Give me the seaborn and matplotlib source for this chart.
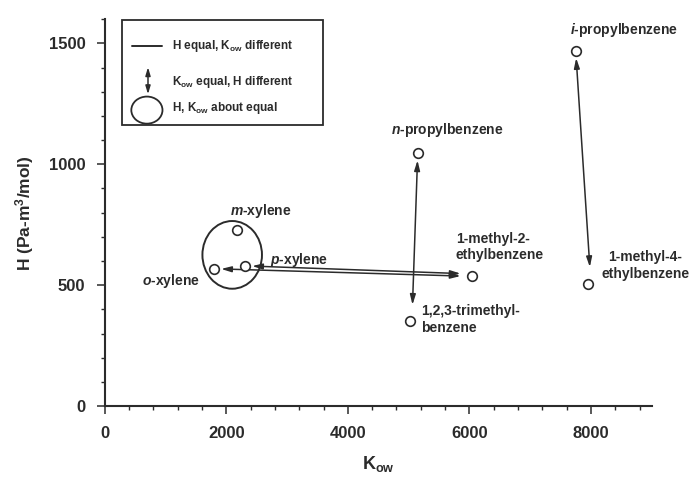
import matplotlib
matplotlib.use("Agg")
import matplotlib.pyplot as plt
import seaborn as sns
import pandas as pd
from matplotlib.patches import Ellipse, Rectangle
from matplotlib.ticker import MultipleLocator

# ---------------- data ----------------
compounds = ["m-xylene", "p-xylene", "o-xylene", "1-methyl-2-ethylbenzene",
             "1,2,3-trimethylbenzene", "n-propylbenzene", "i-propylbenzene",
             "1-methyl-4-ethylbenzene"]
kow = [2180, 2310, 1800, 6050, 5020, 5150, 7750, 7950]
henry = [728, 580, 568, 537, 350, 1045, 1468, 506]

# label text and placement (data coords)
label_text = [r"$\it{m}$-xylene", r"$\it{p}$-xylene", r"$\it{o}$-xylene",
              "1-methyl-2-\nethylbenzene", "1,2,3-trimethyl-\nbenzene",
              r"$\it{n}$-propylbenzene", r"$\it{i}$-propylbenzene",
              "1-methyl-4-\nethylbenzene"]
label_x = [2570, 2720, 1570, 5776, 5200, 5635, 8540, 8895]
label_y = [805, 605, 518, 658, 358, 1140, 1556, 580]
label_ha = ["center", "left", "right", "left", "left", "center", "center", "center"]

# relationships
h_equal_pairs = [("p-xylene", "1-methyl-2-ethylbenzene"),
                 ("o-xylene", "1-methyl-2-ethylbenzene")]
kow_equal_pairs = [("n-propylbenzene", "1,2,3-trimethylbenzene"),
                   ("i-propylbenzene", "1-methyl-4-ethylbenzene")]
about_equal_group = ["m-xylene", "p-xylene", "o-xylene"]

x_ticks = [0, 2000, 4000, 6000, 8000]
y_ticks = [0, 500, 1000, 1500]

df = pd.DataFrame({"compound": compounds, "Kow": kow, "H": henry})
pos = df.set_index("compound")

INK = "#2b2b2b"
sns.set_theme(style="white")
plt.rcParams["font.family"] = ["Liberation Sans", "DejaVu Sans"]
plt.rcParams["mathtext.fontset"] = "custom"
plt.rcParams["mathtext.rm"] = "Liberation Sans:bold"
plt.rcParams["mathtext.bf"] = "Liberation Sans:bold"
plt.rcParams["mathtext.it"] = "Liberation Sans:italic:bold"

fig = plt.figure(figsize=(6.94, 4.80), dpi=100)
ax = fig.add_axes([0.151, 0.154, 0.788, 0.806])

sns.scatterplot(data=df, x="Kow", y="H", ax=ax, marker="o", s=48,
                facecolor="white", edgecolor=INK, linewidth=1.2, zorder=4,
                legend=False)

ax.set_xlim(0, 9000)
ax.set_ylim(0, 1600)
ax.set_xticks(x_ticks)
ax.set_yticks(y_ticks)
ax.xaxis.set_minor_locator(MultipleLocator(400))
ax.yaxis.set_minor_locator(MultipleLocator(100))
ax.tick_params(which="major", direction="out", length=6, width=1.1, color=INK,
               labelsize=12, labelcolor=INK, pad=8)
ax.tick_params(which="minor", direction="out", length=3, width=1.0, color=INK)
ax.tick_params(axis="both", which="both", bottom=True, left=True)
for lab in ax.get_xticklabels() + ax.get_yticklabels():
    lab.set_fontweight("bold")
for s in ["top", "right"]:
    ax.spines[s].set_visible(False)
for s in ["left", "bottom"]:
    ax.spines[s].set_color(INK)
    ax.spines[s].set_linewidth(1.5)

ax.set_xlabel(r"K$_{\mathrm{ow}}$", fontsize=13, fontweight="bold", color=INK, labelpad=10)
ax.set_ylabel(r"H (Pa-m$^{\mathrm{3}}$/mol)", fontsize=12.5, fontweight="bold", color=INK, labelpad=9)

arrow_kw = dict(arrowstyle="<|-|>,head_length=0.5,head_width=0.14",
                lw=1.1, color=INK, shrinkA=5, shrinkB=5)

# H equal, Kow different (horizontal double lines)
for i, (a, b) in enumerate(h_equal_pairs):
    off = 10 if i == 0 else 0
    ax.annotate("", xy=(pos.loc[a, "Kow"], pos.loc[a, "H"]),
                xytext=(pos.loc[b, "Kow"] - 80, pos.loc[b, "H"] + off),
                arrowprops=arrow_kw, zorder=3)

# Kow equal, H different (vertical arrows)
for a, b in kow_equal_pairs:
    ax.annotate("", xy=(pos.loc[b, "Kow"] + 40, pos.loc[b, "H"] + 40),
                xytext=(pos.loc[a, "Kow"], pos.loc[a, "H"]),
                arrowprops=arrow_kw, zorder=3)

# H, Kow about equal (ellipse around group)
grp = pos.loc[about_equal_group]
cx, cy = grp["Kow"].mean(), grp["H"].mean()
w = grp["Kow"].max() - grp["Kow"].min() + 470
hgt = grp["H"].max() - grp["H"].min() + 120
ax.add_patch(Ellipse((cx, cy), w, hgt, fill=False, ec=INK, lw=1.4, zorder=3))

# point labels
for t, lx, ly, ha in zip(label_text, label_x, label_y, label_ha):
    ax.text(lx, ly, t, ha=ha, va="center", multialignment=ha,
            fontsize=10, fontweight="bold", color=INK, clip_on=False, linespacing=1.25)

# legend box (axes coords)
ax.add_patch(Rectangle((0.031, 0.726), 0.368, 0.272, transform=ax.transAxes,
                       fill=True, fc="white", ec=INK, lw=1.3, zorder=5, clip_on=False))
ax.plot([0.049, 0.104], [0.930, 0.930], transform=ax.transAxes, color=INK,
        lw=1.4, zorder=6, clip_on=False)
ax.annotate("", xy=(0.079, 0.806), xytext=(0.079, 0.876), xycoords="axes fraction",
            arrowprops=dict(arrowstyle="<|-|>,head_length=0.4,head_width=0.12",
                            lw=1.1, color=INK, shrinkA=0, shrinkB=0), zorder=6)
ax.add_patch(Ellipse((0.077, 0.765), 0.057, 0.070, transform=ax.transAxes,
                     fill=False, ec=INK, lw=1.3, zorder=6, clip_on=False))
leg_texts = [r"H equal, K$_{\mathrm{ow}}$ different",
             r"K$_{\mathrm{ow}}$ equal, H different",
             r"H, K$_{\mathrm{ow}}$ about equal"]
leg_y = [0.930, 0.838, 0.770]
for t, yy in zip(leg_texts, leg_y):
    ax.text(0.122, yy, t, transform=ax.transAxes, ha="left", va="center",
            fontsize=8.5, fontweight="bold", color=INK, zorder=7)

fig.savefig("out.png", dpi=100, facecolor="white")
